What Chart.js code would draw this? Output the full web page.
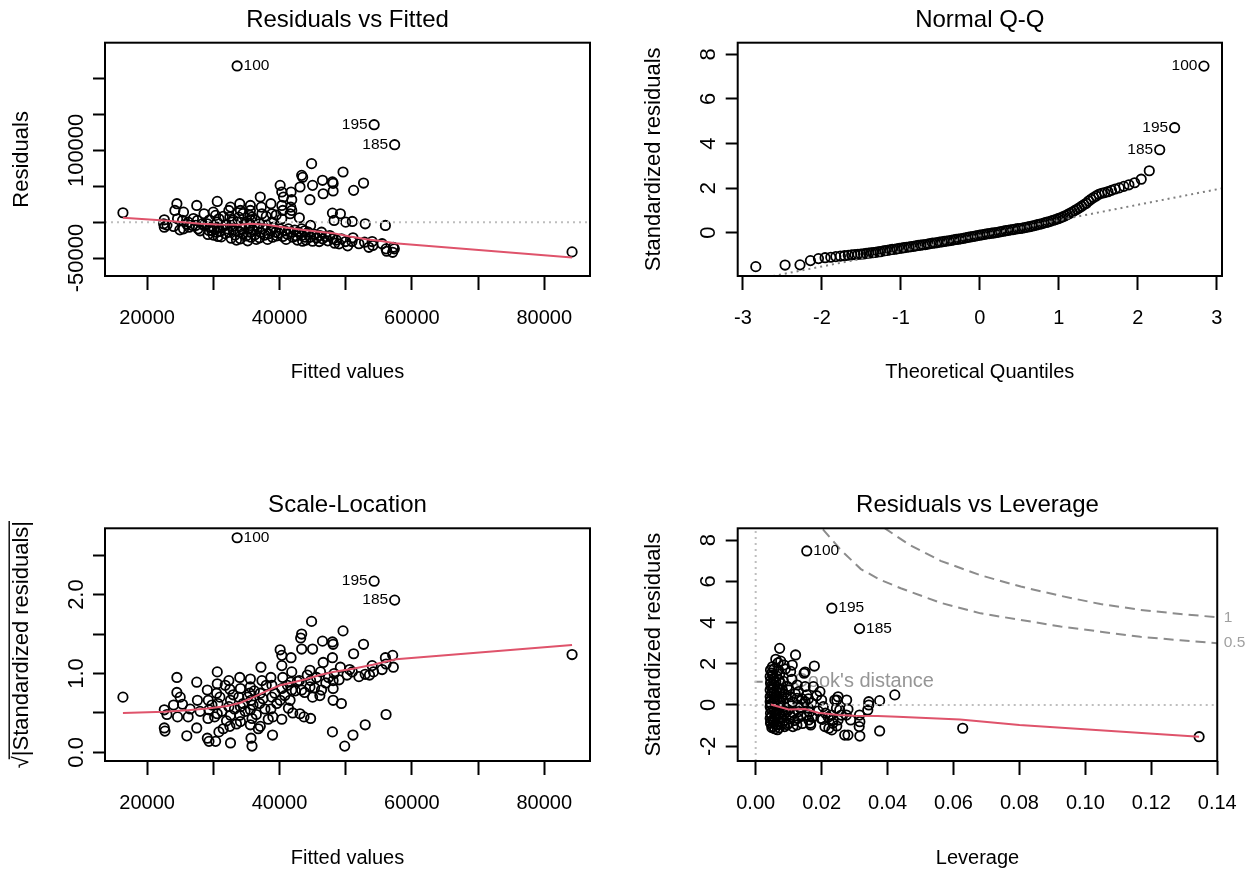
<!DOCTYPE html>
<html>
<head>
<meta charset="utf-8">
<script src="https://cdn.jsdelivr.net/npm/chart.js@4.4.1/dist/chart.umd.min.js"></script>
<style>
html,body{margin:0;padding:0;background:#fff;overflow:hidden;width:1253px;height:872px;}
canvas{position:absolute;}
</style>
</head>
<body>
<canvas id="c1" width="626" height="436" style="left:0px;top:0px"></canvas>
<canvas id="c2" width="627" height="436" style="left:626px;top:0px"></canvas>
<canvas id="c3" width="626" height="436" style="left:0px;top:436px"></canvas>
<canvas id="c4" width="627" height="436" style="left:626px;top:436px"></canvas>
<script>
// ---------------- DATA ----------------
const idNames = ['100', '195', '185'];

// Residuals vs Fitted: [fitted value, residual]
const rvfObs = [
[16350,13100],[22600,3300],[22500,-2300],[22600,-7000],[24500,25700],[24200,16300],[24600,4700],[24950,-10700],
[25500,14000],[25350,2400],[25500,-9300],[26200,0],[26350,-7000],[26850,-4600],[27500,23300],[27600,2400],
[27700,-9300],[27350,-4600],[28600,11700],[28600,-4600],[28350,-2300],[29100,-2300],[29350,-11600],[29200,-17200],
[29500,-7000],[30600,28900],[30350,9400],[30600,0],[30600,-7000],[30500,-14000],[30700,-20000],[30850,4700],
[30100,-9300],[32350,16300],[32500,7000],[32600,-4600],[32350,-14000],[32700,-22300],[32100,-9300],[32850,0],
[32600,21000],[34000,25700],[34100,16300],[33850,7000],[34100,-6000],[34000,-14000],[34100,-23200],[33600,0],
[34350,-9300],[35600,23300],[35600,16300],[35500,9400],[35700,2400],[35600,-4600],[35600,-14000],[35700,-21000],
[35350,-9300],[35850,7000],[35450,-1400],[37100,35000],[37250,21000],[37350,11700],[37000,-2300],[37100,-14000],
[37000,-21800],[36700,-7000],[38700,25700],[38850,11700],[38850,0],[38700,-11600],[38950,-21000],[38350,-16300],
[39100,-7000],[40100,51300],[40350,42000],[40600,35000],[40350,23300],[40500,16300],[40350,4700],[40100,-9300],
[40500,-20000],[39850,-15300],[41750,42000],[41850,31300],[41700,21000],[41850,16300],[41600,11700],[41700,-14000],
[42000,-21000],[41350,-9300],[43350,65200],[43500,62500],[43100,49000],[43000,6100],[43350,-9300],[43350,-18600],
[43500,-26500],[42850,-14000],[43850,-21000],[44850,81500],[45000,51300],[44600,31300],[44700,-4600],[44600,-21000],
[45000,-26500],[44350,-14000],[46500,58300],[46600,39600],[46350,-14000],[46500,-23200],[46100,-18600],[48000,56000],
[48100,54000],[48100,43400],[48000,12600],[48250,2400],[48100,-23200],[48350,-29300],[47600,-18600],[49600,69900],
[49200,11700],[49350,-23200],[49000,-30200],[51200,44300],[51000,1000],[50950,-27000],[51100,-21800],[52700,54500],
[52950,-2300],[52850,-27900],[54000,-27000],[54100,-32500],[56000,-4600],[56100,-37200],[56200,-40500],[57200,-35000],
[57100,-42000],[57350,-37200],[84200,-41400],[50000,0],
[29800,-12000],[30000,-18000],[31000,-13000],[31200,-20500],[31500,-6000],[31800,-16000],[32000,-3000],[33000,-11000],
[33300,-18000],[33500,-25000],[34500,-16000],[34800,-3000],[35000,-19000],[35200,-26000],[36000,-11000],[36300,-17500],
[36500,-24000],[37500,-9000],[37800,-18000],[38000,-4000],[38200,-24000],[39400,-14000],[39600,-19000],[40800,-12000],
[41000,-24000],[41200,-17000],[42300,-11000],[42500,-19000],[42700,-25000],[43800,-12000],[44000,-25000],[45300,-17000],
[45600,-22000],[46000,-27000],[47000,-20000],[47300,-26000],[48600,-25000],[50000,-27000],[50300,-33000],[52000,-30000],
[53500,-35000],[55500,-30000],[39500,10000],[38000,8000],[36300,3000],[34500,12000],[33000,3000],[31500,8000],
[30000,14000],[28000,-12000],[26000,-3000],[24000,-6000],[23000,-4000],[27000,5000],[29400,3000]
];
const rvfIdObs = [[33600,217600],[54300,135800],[57400,107900]];
const rvfSmooth = [[16350,6100],[22600,2400],[28100,-2300],[30600,-3200],[34100,-3700],[35600,-2300],[38100,-3700],
[40600,-7000],[43100,-10200],[45600,-13000],[48100,-15300],[50600,-20000],[53100,-23700],[55600,-26500],[57400,-29300],[84200,-49300]];
const rvfZero = [[13640,0],[86910,0]];
const fittedTicks = [20000,30000,40000,50000,60000,70000,80000];
const fittedTickLabels = ['20000','','40000','','60000','','80000'];
const residTicks = [-50000,0,50000,100000,150000,200000];
const residTickLabels = ['-50000','','','100000','',''];

// Normal Q-Q: [theoretical quantile, standardized residual]
const qqObs = [
[-2.838,-1.52],[-2.467,-1.45],[-2.278,-1.44],[-2.146,-1.25],[-2.044,-1.16],[-1.960,-1.12],[-1.888,-1.10],[-1.824,-1.07],
[-1.766,-1.05],[-1.714,-1.03],[-1.667,-1.01],[-1.623,-0.99],[-1.582,-0.98],[-1.544,-0.97],[-1.507,-0.96],[-1.473,-0.95],
[-1.440,-0.93],[-1.408,-0.91],[-1.378,-0.90],[-1.349,-0.89],
[-1.32,-0.88],[-1.29,-0.86],[-1.26,-0.85],[-1.23,-0.82],[-1.20,-0.80],[-1.17,-0.79],[-1.14,-0.77],[-1.11,-0.75],
[-1.08,-0.74],[-1.05,-0.72],[-1.02,-0.70],[-0.99,-0.69],[-0.96,-0.67],[-0.93,-0.65],[-0.90,-0.64],[-0.87,-0.62],
[-0.84,-0.61],[-0.81,-0.59],[-0.78,-0.57],[-0.75,-0.56],[-0.72,-0.54],[-0.69,-0.53],[-0.66,-0.51],[-0.63,-0.49],
[-0.60,-0.47],[-0.57,-0.46],[-0.54,-0.44],[-0.51,-0.42],[-0.48,-0.41],[-0.45,-0.39],[-0.42,-0.37],[-0.39,-0.36],
[-0.36,-0.34],[-0.33,-0.32],[-0.30,-0.30],[-0.27,-0.29],[-0.24,-0.27],[-0.21,-0.25],[-0.18,-0.23],[-0.15,-0.21],
[-0.12,-0.19],[-0.09,-0.17],[-0.06,-0.15],[-0.03,-0.13],[0,-0.11],[0.03,-0.09],[0.06,-0.07],[0.09,-0.05],
[0.12,-0.04],[0.15,-0.02],[0.18,-0.01],[0.21,0.01],[0.24,0.03],[0.27,0.05],[0.30,0.07],[0.33,0.09],
[0.36,0.11],[0.39,0.13],[0.42,0.14],[0.45,0.16],[0.48,0.18],[0.51,0.19],[0.54,0.21],[0.57,0.23],
[0.60,0.25],[0.63,0.27],[0.66,0.30],[0.69,0.32],[0.72,0.35],[0.75,0.38],[0.78,0.40],[0.81,0.43],
[0.84,0.46],[0.87,0.49],[0.90,0.52],[0.93,0.56],[0.96,0.59],[0.99,0.63],[1.02,0.67],[1.05,0.71],
[1.08,0.76],[1.11,0.81],[1.14,0.87],[1.17,0.93],[1.20,0.99],[1.23,1.05],[1.26,1.12],[1.29,1.19],[1.32,1.26],
[1.349,1.32],[1.378,1.42],[1.408,1.50],[1.440,1.58],[1.473,1.65],[1.507,1.72],[1.544,1.77],[1.582,1.80],
[1.623,1.84],[1.667,1.90],[1.714,1.96],[1.766,2.01],[1.824,2.08],[1.888,2.15],[1.960,2.24],[2.044,2.40],[2.146,2.78]
];
const qqIdObs = [[2.838,7.47],[2.467,4.71],[2.278,3.72]];
const qqRefLine = [[-3.067,-2.25],[3.067,1.99]];
const qqXTicks = [-3,-2,-1,0,1,2,3];
const qqXTickLabels = ['-3','-2','-1','0','1','2','3'];
const qqYTicks = [0,2,4,6,8];
const qqYTickLabels = ['0','2','4','6','8'];

// Scale-Location: [fitted value, sqrt(|standardized residual|)]
const slObs = [
[16350,0.70],[22600,0.54],[22600,0.31],[22700,0.27],[24500,0.95],[24500,0.76],[25000,0.70],[25350,0.61],
[24600,0.45],[26000,0.21],[26200,0.45],[27500,0.89],[27600,0.66],[27500,0.31],[29100,0.79],[29250,0.66],
[29350,0.54],[29200,0.43],[29100,0.18],[29350,0.14],[30600,1.02],[30600,0.87],[30500,0.75],[30700,0.62],
[30600,0.49],[30850,0.26],[30350,0.14],[32350,0.91],[32500,0.80],[32600,0.66],[32350,0.58],[32600,0.47],
[32500,0.33],[32600,0.12],[34000,0.95],[34100,0.81],[33850,0.70],[34100,0.58],[34000,0.47],[34100,0.39],
[35600,0.93],[35600,0.83],[35500,0.75],[35700,0.66],[35600,0.54],[35850,0.43],[35600,0.35],[35700,0.18],
[35850,0.08],[37200,1.08],[37350,0.91],[37100,0.75],[37000,0.62],[37100,0.33],[38700,0.95],[38850,0.85],
[38850,0.70],[38700,0.55],[38950,0.22],[40100,1.30],[40350,1.23],[40350,1.10],[40500,0.95],[40350,0.81],
[40100,0.66],[40350,0.42],[41750,1.20],[41850,1.02],[41700,0.89],[41850,0.79],[41600,0.66],[41350,0.56],
[43350,1.50],[43200,1.45],[43350,1.31],[43000,0.91],[43350,0.79],[43100,0.49],[43700,0.45],[44850,1.66],
[45000,1.31],[44600,1.04],[44700,0.91],[44600,0.83],[45000,0.70],[44700,0.43],[46500,1.41],[46600,1.14],
[46350,0.79],[46100,0.72],[48000,1.40],[48100,1.37],[48000,1.20],[48250,1.00],[48100,0.91],[48100,0.81],
[48100,0.66],[48000,0.26],[49600,1.54],[49200,1.08],[49350,0.62],[49850,0.08],[51200,1.25],[51000,1.02],
[51100,0.22],[52700,1.37],[52950,0.99],[52950,0.35],[54000,1.10],[54200,1.02],[56000,1.20],[56100,1.12],
[56100,0.48],[57100,1.23],[57200,1.08],[84200,1.24],
[29800,0.60],[30200,0.45],[31000,0.70],[31300,0.52],[31800,0.85],[32000,0.40],[33000,0.73],[33200,0.55],
[33500,0.36],[34500,0.62],[34800,0.52],[35200,0.70],[36000,0.60],[36200,0.78],[36500,0.48],[37500,0.68],
[37800,0.55],[38000,0.85],[38300,0.42],[39300,0.75],[39600,0.62],[40800,0.72],[41200,0.85],[42400,0.78],
[42700,0.90],[43800,0.76],[44200,0.98],[45300,0.82],[45600,0.95],[46200,1.02],[47000,0.88],[47400,0.95],
[49000,0.92],[50200,0.98],[50600,1.05],[52000,0.96],[53600,0.98],[55500,1.05],[28000,0.52],[26500,0.55],
[24000,0.60],[23000,0.48],[31500,0.30],[36800,0.30],[39000,0.45],[42000,0.50]
];
const slIdObs = [[33600,2.72],[54300,2.17],[57400,1.93]];
const slSmooth = [[16350,0.50],[22600,0.515],[26100,0.535],[29100,0.557],[32100,0.587],[34100,0.63],[36100,0.70],
[38100,0.78],[40100,0.85],[42100,0.89],[44100,0.93],[46100,0.98],[48100,1.02],[51100,1.06],[54100,1.11],[57600,1.18],[84200,1.36]];
const slYTicks = [0,0.5,1,1.5,2,2.5];
const slYTickLabels = ['0.0','','1.0','','2.0',''];

// Residuals vs Leverage: [leverage, standardized residual]
const rvlObs = [
[0.00727,2.75],[0.0121,2.43],[0.0178,1.89],[0.0147,1.54],[0.0422,0.49],[0.0376,0.21],[0.0343,0.16],[0.0343,0.0],
[0.0340,-0.24],[0.0315,-0.49],[0.0316,-0.81],[0.0314,-1.05],[0.0316,-1.51],[0.0280,-1.46],[0.0280,-0.21],[0.0276,0.24],
[0.0250,0.40],[0.0246,0.24],[0.0222,-1.13],[0.0231,-1.21],[0.0246,-1.02],[0.0234,-0.89],[0.0210,-1.05],[0.0198,-0.65],
[0.0203,-0.70],[0.0288,-0.73],[0.0376,-1.26],[0.0628,-1.13],[0.1345,-1.54],[0.0167,-0.97],[0.0161,-0.73],[0.0113,-1.05],
[0.0052,-1.05],[0.0061,2.22],[0.0076,2.13],[0.0051,1.86],[0.0069,1.70],[0.0086,1.94],[0.0111,1.94],[0.0106,1.63],
[0.0150,1.60],[0.0045,1.70],[0.0044,1.38],[0.0045,1.05],[0.0044,0.73],[0.0044,0.40],[0.0044,0.16],[0.0044,-0.08],
[0.0045,-0.40],[0.0044,-0.65],[0.0045,-0.89],[0.0052,1.46],[0.0061,1.13],[0.0052,0.81],[0.0061,0.49],[0.0058,0.24],
[0.0052,-0.08],[0.0061,-0.40],[0.0052,-0.73],[0.0063,-0.97],[0.0076,1.05],[0.0081,0.73],[0.0079,0.40],[0.0076,0.08],
[0.0081,-0.24],[0.0076,-0.57],[0.0081,-0.89],[0.0101,0.73],[0.0106,0.40],[0.0101,0.08],[0.0099,-0.24],[0.0106,-0.57],
[0.0101,-0.89],[0.0126,0.97],[0.0130,0.65],[0.0125,0.32],[0.0128,0.0],[0.0130,-0.32],[0.0128,-0.65],[0.0125,-0.97],
[0.0150,0.89],[0.0155,0.49],[0.0150,0.16],[0.0160,-0.16],[0.0155,-0.49],[0.0166,-0.89],[0.0175,0.89],[0.0195,0.65],
[0.0200,0.24],[0.0205,-0.08],[0.0212,-0.40],[0.0220,-0.59],[0.0240,0.24],[0.0245,-0.16],[0.0230,-0.49],[0.0235,-0.73],
[0.0255,-0.24],[0.0260,-0.49],[0.0250,-0.73],[0.0275,-0.49],[0.0270,-1.46],
[0.0046,1.20],[0.0047,0.90],[0.0048,0.55],[0.0046,0.25],[0.0047,-0.20],[0.0048,-0.55],[0.0046,-0.80],[0.0049,-1.10],
[0.0047,0.05],[0.0049,1.55],[0.0055,1.25],[0.0056,0.95],[0.0055,0.60],[0.0057,0.35],[0.0055,0.10],[0.0056,-0.25],
[0.0057,-0.60],[0.0055,-0.85],[0.0058,-1.15],[0.0056,1.75],[0.0064,1.40],[0.0066,0.85],[0.0065,0.60],[0.0064,0.30],
[0.0066,-0.05],[0.0065,-0.30],[0.0067,-0.70],[0.0064,-0.95],[0.0066,-1.20],[0.0068,2.05],[0.0071,1.20],[0.0072,0.55],
[0.0073,0.20],[0.0071,-0.15],[0.0072,-0.45],[0.0074,-0.80],[0.0072,-1.10],[0.0073,1.50],[0.0084,1.15],[0.0086,0.55],
[0.0085,0.20],[0.0087,-0.10],[0.0085,-0.45],[0.0086,-0.75],[0.0088,-1.05],[0.0090,1.75],[0.0092,0.35],[0.0093,-0.35],
[0.0095,-0.95],[0.0096,0.90],[0.0110,1.25],[0.0112,0.15],[0.0115,-0.40],[0.0118,-0.75],[0.0120,0.55],[0.0135,-0.15],
[0.0138,-0.55],[0.0140,0.30],[0.0142,-0.90],[0.0145,0.05],[0.0160,0.30],[0.0163,-0.35],[0.0170,0.10],[0.0172,-0.60],
[0.0185,0.45],[0.0190,-0.30]
];
const rvlIdObs = [[0.0155,7.48],[0.0231,4.70],[0.0315,3.71]];
const rvlSmooth = [[0.0046,0.02],[0.0100,-0.22],[0.0150,-0.20],[0.0190,-0.38],[0.0250,-0.49],[0.0300,-0.52],
[0.0370,-0.53],[0.0430,-0.57],[0.0620,-0.70],[0.0800,-0.97],[0.1345,-1.54]];
const cookOne = [[0.0390,8.60],[0.0464,7.80],[0.0561,7.00],[0.0682,6.30],[0.0804,5.75],[0.0925,5.30],[0.1046,4.90],
[0.1167,4.62],[0.1288,4.42],[0.1400,4.26]];
const cookHalf = [[0.0204,8.53],[0.0258,7.53],[0.0319,6.60],[0.0379,6.07],[0.0440,5.67],[0.0561,4.96],[0.0682,4.45],
[0.0804,4.13],[0.0925,3.81],[0.1046,3.56],[0.1167,3.31],[0.1288,3.14],[0.1400,3.00]];
const cookLevelNames = ['1', '0.5'];
const rvlZeroH = [[-0.00545,0],[0.14,0]];
const rvlZeroV = [[0,-2.72],[0,8.58]];
const levTicks = [0,0.02,0.04,0.06,0.08,0.10,0.12,0.14];
const levTickLabels = ['0.00','0.02','0.04','0.06','0.08','0.10','0.12','0.14'];
const rvlYTicks = [-2,0,2,4,6,8];
const rvlYTickLabels = ['-2','0','2','4','6','8'];

// ---------------- STYLE ----------------
const FONT = '"Liberation Sans", Arial, Helvetica, sans-serif';
const XT = 20, YT = 22, TT = 24, IDF = 15.5;
const Y_TICK_LEN = 12, X_TICK_LEN = 14, Y_LABEL_OFF = 28.5, X_LABEL_PAD = 16.3;
const RED = '#DF536B', GRAY = '#BEBEBE', GRAY50 = '#7F7F7F', COOK = '#8C8C8C';
Chart.defaults.font.family = FONT;
Chart.defaults.color = '#000';

const mctx = document.createElement('canvas').getContext('2d');
function measure(text, size) { mctx.font = size + 'px ' + FONT; return mctx.measureText(text).width; }
function pts(arr) { return arr.map(p => ({ x: p[0], y: p[1] })); }
function pointSet(arr, order) {
  return { data: pts(arr), showLine: false, pointStyle: 'circle', pointRadius: 4.7, pointBorderWidth: 1.8,
    pointBorderColor: '#000', pointBackgroundColor: 'rgba(0,0,0,0)', order: order };
}
function lineSet(arr, color, width, dash, order) {
  return { data: pts(arr), showLine: true, borderColor: color, borderWidth: width, borderDash: dash,
    pointRadius: 0, fill: false, tension: 0, order: order };
}

function makeDecor(p) {
  return {
    id: 'rdecor',
    beforeDatasetsDraw(chart) {
      if (!p.cookLegend) return;
      const { ctx, chartArea: a } = chart;
      const ly = a.top + 153.4;
      ctx.save();
      ctx.strokeStyle = COOK; ctx.lineWidth = 2; ctx.setLineDash([8, 6]);
      ctx.beginPath(); ctx.moveTo(a.left + 17, ly); ctx.lineTo(a.left + 44, ly); ctx.stroke();
      ctx.setLineDash([]);
      ctx.fillStyle = '#969696'; ctx.font = '20px ' + FONT; ctx.textAlign = 'left'; ctx.textBaseline = 'middle';
      ctx.fillText("Cook's distance", a.left + 55.7, ly);
      ctx.restore();
    },
    afterDatasetsDraw(chart) {
      const { ctx, scales: { x, y } } = chart;
      ctx.save();
      ctx.font = IDF + 'px ' + FONT; ctx.fillStyle = '#000'; ctx.textBaseline = 'middle';
      p.ids.forEach((pt, i) => {
        const px = x.getPixelForValue(pt[0]), py = y.getPixelForValue(pt[1]);
        const left = p.idSide[i] === 'left';
        ctx.textAlign = left ? 'right' : 'left';
        ctx.fillText(idNames[i], px + (left ? -6.5 : 6.5), py);
      });
      ctx.restore();
    },
    afterDraw(chart) {
      const { ctx, chartArea: a, scales: { y } } = chart;
      ctx.save();
      ctx.strokeStyle = '#000'; ctx.lineWidth = 2;
      ctx.strokeRect(a.left, a.top, a.right - a.left, a.bottom - a.top);
      if (p.levels) {
        ctx.font = IDF + 'px ' + FONT; ctx.fillStyle = '#A0A0A0'; ctx.textAlign = 'left'; ctx.textBaseline = 'middle';
        p.levels.forEach((curve, i) => {
          const last = curve[curve.length - 1];
          ctx.fillText(cookLevelNames[i], a.right + 6.5, y.getPixelForValue(last[1]));
        });
      }
      if (p.radical) {
        // overbar of the square-root sign in the y-axis title
        const L = measure(p.yTitle, YT), w = measure('\u221A', YT);
        const cx = y.left + p.yTitleTop + YT * 0.6;
        const cy = (a.top + a.bottom) / 2;
        ctx.lineWidth = 1.4;
        ctx.beginPath();
        ctx.moveTo(cx - 12.5, cy + L / 2 - w * 0.75);
        ctx.lineTo(cx - 12.5, cy - L / 2);
        ctx.stroke();
      }
      ctx.restore();
    }
  };
}

function makePanel(id, p) {
  const widest = Math.max(...p.yLabels.map(t => measure(t, YT)));
  const yPad = Y_LABEL_OFF - Y_TICK_LEN - widest / 2;
  return new Chart(document.getElementById(id), {
    type: 'scatter',
    data: { datasets: p.datasets },
    options: {
      responsive: false, maintainAspectRatio: false, animation: false, devicePixelRatio: 1, events: [],
      layout: { autoPadding: false, padding: { left: 0, top: 0, right: p.padRight, bottom: 0 } },
      plugins: {
        legend: { display: false }, tooltip: { enabled: false },
        title: { display: true, text: p.title, fullSize: false, color: '#000',
          font: { size: TT, weight: 'normal', lineHeight: 1.2 }, padding: { top: p.titleTop, bottom: p.titleBottom } }
      },
      scales: {
        x: {
          type: 'linear', position: 'bottom', min: p.xMin, max: p.xMax, bounds: 'data',
          afterBuildTicks: s => { s.ticks = p.xTicks.map(v => ({ value: v })); },
          afterFit: s => { s.height = p.xAxisHeight; },
          grid: { display: true, drawOnChartArea: false, drawTicks: true, tickLength: X_TICK_LEN, tickWidth: 2, tickColor: '#000' },
          border: { display: false },
          ticks: { autoSkip: false, minRotation: 0, maxRotation: 0, padding: X_LABEL_PAD, color: '#000',
            font: { size: XT }, callback: (v, i) => p.xLabels[i] },
          title: { display: true, text: p.xTitle, color: '#000', font: { size: XT }, padding: { top: 0, bottom: p.xTitleBottom } }
        },
        y: {
          type: 'linear', position: 'left', min: p.yMin, max: p.yMax, bounds: 'data',
          afterBuildTicks: s => { s.ticks = p.yTicks.map(v => ({ value: v })); },
          afterFit: s => { s.width = p.yAxisWidth; },
          grid: { display: true, drawOnChartArea: false, drawTicks: true, tickLength: Y_TICK_LEN, tickWidth: 2, tickColor: '#000' },
          border: { display: false },
          ticks: { autoSkip: false, minRotation: 90, maxRotation: 90, crossAlign: 'center', padding: yPad, color: '#000',
            font: { size: YT }, callback: (v, i) => p.yLabels[i] },
          title: { display: true, text: p.yTitle, color: '#000', font: { size: YT }, padding: { top: p.yTitleTop, bottom: 0 } }
        }
      }
    },
    plugins: [makeDecor(p)]
  });
}

// ---------------- PANELS ----------------
makePanel('c1', {
  title: 'Residuals vs Fitted', xTitle: 'Fitted values', yTitle: 'Residuals',
  xMin: 13640, xMax: 86910, yMin: -75000, yMax: 250000,
  xTicks: fittedTicks, xLabels: fittedTickLabels, yTicks: residTicks, yLabels: residTickLabels,
  padRight: 36, yAxisWidth: 105, xAxisHeight: 160, titleTop: 6.3, titleBottom: 7.6, xTitleBottom: 51.5, yTitleTop: 8.5,
  ids: rvfIdObs, idSide: ['right', 'left', 'left'],
  datasets: [
    lineSet(rvfSmooth, RED, 2, [], 0),
    lineSet(rvfZero, GRAY, 2, [2, 4], 1),
    pointSet(rvfObs.concat(rvfIdObs), 2)
  ]
});
makePanel('c2', {
  title: 'Normal Q-Q', xTitle: 'Theoretical Quantiles', yTitle: 'Standardized residuals',
  xMin: -3.067, xMax: 3.067, yMin: -1.94, yMax: 8.52,
  xTicks: qqXTicks, xLabels: qqXTickLabels, yTicks: qqYTicks, yLabels: qqYTickLabels,
  padRight: 31, yAxisWidth: 111.7, xAxisHeight: 160, titleTop: 6.3, titleBottom: 7.6, xTitleBottom: 51.5, yTitleTop: 15.1,
  ids: qqIdObs, idSide: ['left', 'left', 'left'],
  datasets: [
    lineSet(qqRefLine, GRAY50, 2, [2, 4], 0),
    pointSet(qqObs.concat(qqIdObs), 1)
  ]
});
makePanel('c3', {
  title: 'Scale-Location', xTitle: 'Fitted values', yTitle: '\u221A|Standardized residuals|',
  xMin: 13640, xMax: 86910, yMin: -0.109, yMax: 2.84,
  xTicks: fittedTicks, xLabels: fittedTickLabels, yTicks: slYTicks, yLabels: slYTickLabels,
  padRight: 36, yAxisWidth: 105, xAxisHeight: 111, titleTop: 55.4, titleBottom: 8.1, xTitleBottom: 2, yTitleTop: 8.5,
  ids: slIdObs, idSide: ['right', 'left', 'left'], radical: true,
  datasets: [
    lineSet(slSmooth, RED, 2, [], 0),
    pointSet(slObs.concat(slIdObs), 1)
  ]
});
makePanel('c4', {
  title: 'Residuals vs Leverage', xTitle: 'Leverage', yTitle: 'Standardized residuals',
  xMin: -0.00545, xMax: 0.14, yMin: -2.72, yMax: 8.58,
  xTicks: levTicks, xLabels: levTickLabels, yTicks: rvlYTicks, yLabels: rvlYTickLabels,
  padRight: 31, yAxisWidth: 111.7, xAxisHeight: 111, titleTop: 55.4, titleBottom: 8.1, xTitleBottom: 2, yTitleTop: 15.1,
  ids: rvlIdObs, idSide: ['right', 'right', 'right'], cookLegend: true, levels: [cookOne, cookHalf],
  datasets: [
    lineSet(rvlSmooth, RED, 2, [], 0),
    lineSet(rvlZeroH, GRAY, 2, [2, 4], 1),
    lineSet(rvlZeroV, GRAY, 2, [2, 4], 1),
    lineSet(cookOne, COOK, 2, [10, 6], 1),
    lineSet(cookHalf, COOK, 2, [10, 6], 1),
    pointSet(rvlObs.concat(rvlIdObs), 2)
  ]
});
</script>
</body>
</html>
